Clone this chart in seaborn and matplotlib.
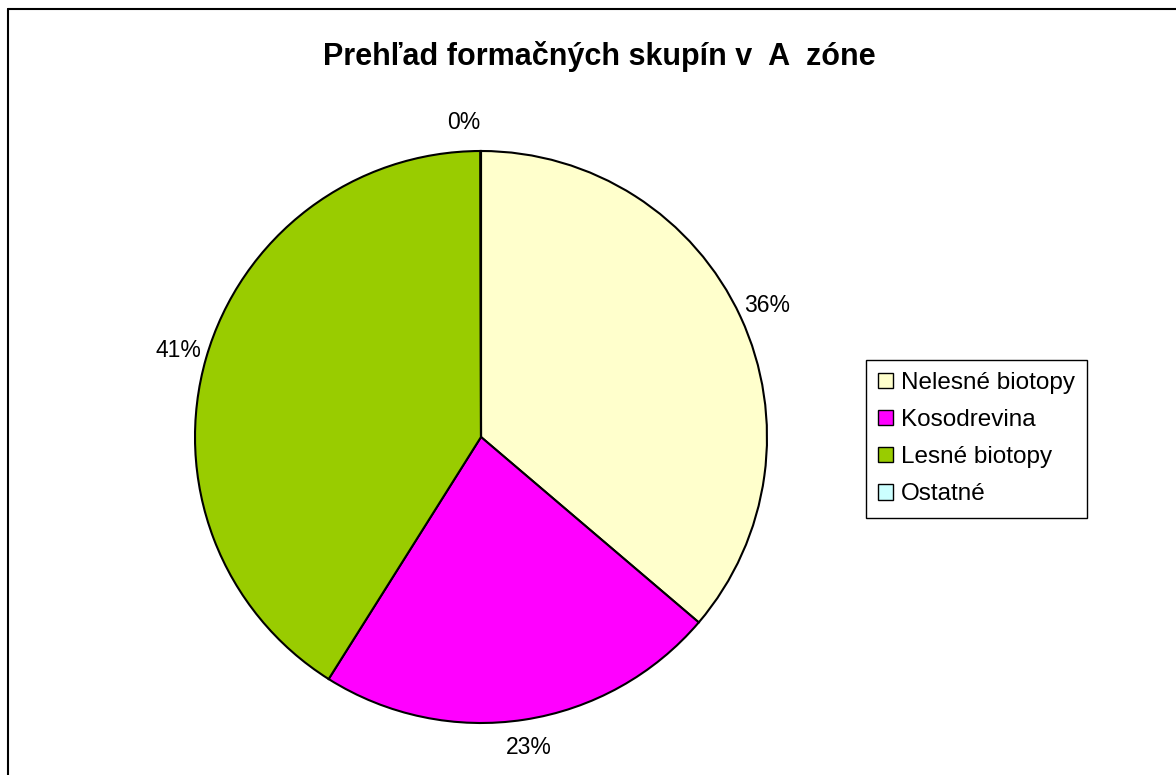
import matplotlib
matplotlib.use("Agg")
import matplotlib.pyplot as plt
from matplotlib.lines import Line2D
from matplotlib.patches import Patch
import seaborn as sns

# data (shares in %)
categories = ["Nelesné biotopy", "Kosodrevina", "Lesné biotopy", "Ostatné"]
shares = [36.2, 22.7, 41.0, 0.03]
colors = ["#FFFFCC", "#FF00FF", "#99CC00", "#CCFFFF"]
title = "Prehľad formačných skupín v  A  zóne"

sns.set_theme(style="white")
plt.rcParams['font.family'] = ['Liberation Sans', 'DejaVu Sans']
plt.rcParams['text.color'] = 'black'

W, H = 1176, 775
fig = plt.figure(figsize=(W / 100, H / 100), dpi=100)
fig.patch.set_facecolor("white")

# pie centred at (481, 437) px, radius 286 px
cx, cy, r = 481, 437, 286
ax = fig.add_axes([(cx - r) / W, (H - cy - r) / H, 2 * r / W, 2 * r / H])
wedges, _, autotexts = ax.pie(shares, colors=colors, startangle=90, counterclock=False,
                              autopct='%.0f%%', pctdistance=1.1,
                              wedgeprops=dict(edgecolor="black", linewidth=1.5),
                              textprops=dict(fontsize=16.5, color="black"))
autotexts[-1].set_ha("right")  # tiny slice label sits just left of the top
ax.set_xlim(-1, 1)
ax.set_ylim(-1, 1)
ax.set_aspect("equal")
ax.axis("off")

fig.text(599 / W, 1 - 56 / H, title, ha="center", va="center",
         fontsize=22, fontweight="bold", color="black")

handles = [Patch(facecolor=c, edgecolor="black", linewidth=1) for c in colors]
leg = fig.legend(handles, categories, loc="upper left",
                 bbox_to_anchor=(866 / W, 1 - 360 / H), bbox_transform=fig.transFigure,
                 borderaxespad=0, frameon=True, fancybox=False, shadow=False,
                 fontsize=17.5, handlelength=0.6, handleheight=0.6, handletextpad=0.35,
                 labelspacing=0.62, borderpad=0.5)
leg.get_frame().set_edgecolor("black")
leg.get_frame().set_linewidth(1)
leg.get_frame().set_alpha(1)
for t in leg.get_texts():
    t.set_color("black")

# outer chart-area border (top and left visible)
fig.add_artist(Line2D([8 / W, 1.0], [1 - 9 / H, 1 - 9 / H], color="black", lw=1.5,
                      transform=fig.transFigure))
fig.add_artist(Line2D([8 / W, 8 / W], [1 - 9 / H, 0.0], color="black", lw=1.5,
                      transform=fig.transFigure))

fig.savefig("out.png", dpi=100, facecolor="white")
